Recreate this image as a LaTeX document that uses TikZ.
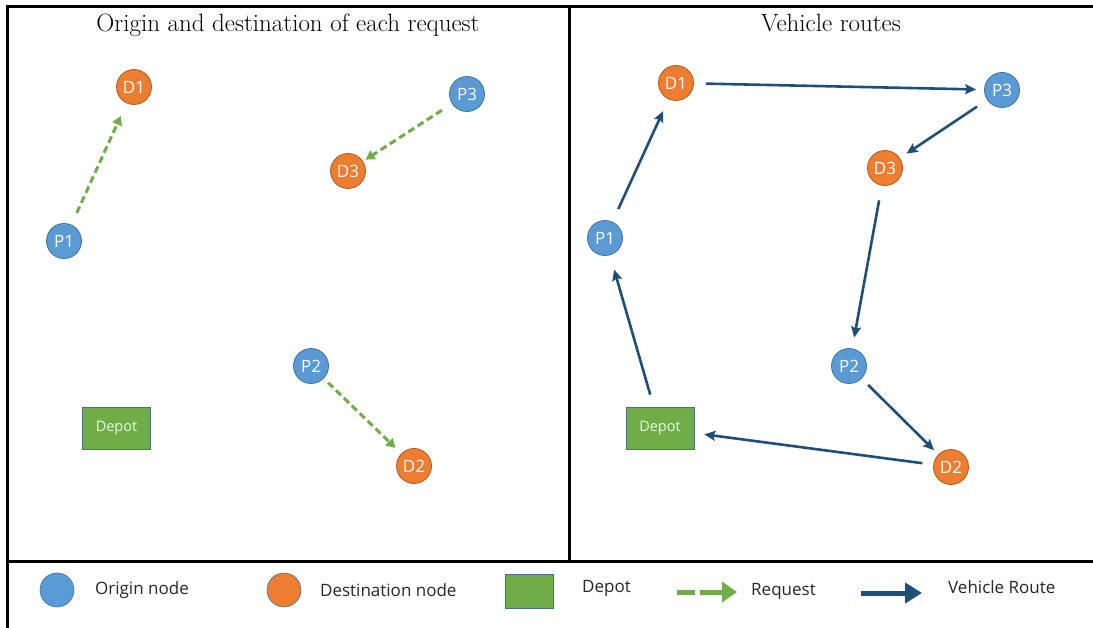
\documentclass[tikz,border=0pt]{standalone}
\usepackage{fontspec}
\setmainfont{Latin Modern Roman}
\newfontfamily\lab{Open Sans}
\usetikzlibrary{arrows.meta}
\definecolor{oblue}{HTML}{5B9BD5}
\definecolor{oblueb}{HTML}{41719C}
\definecolor{dorange}{HTML}{ED7D31}
\definecolor{dorangeb}{HTML}{AE5A21}
\definecolor{dgreen}{HTML}{70AD47}
\definecolor{dgreenb}{HTML}{507E32}
\definecolor{route}{HTML}{1F4E79}
\tikzset{
  pnode/.style={circle, fill=oblue, draw=oblueb, line width=0.8pt, minimum size=35pt, inner sep=0pt, text=white, font=\lab\fontsize{17}{17}\selectfont},
  dnode/.style={circle, fill=dorange, draw=dorangeb, line width=0.8pt, minimum size=35pt, inner sep=0pt, text=white, font=\lab\fontsize{17}{17}\selectfont},
  depot/.style={rectangle, fill=dgreen, draw=oblueb!70!dgreenb, line width=0.8pt, minimum width=68pt, minimum height=42pt, inner sep=0pt, text=white!90!green, font=\lab\fontsize{14.5}{14.5}\selectfont},
  req/.style={draw=dgreen, line width=3pt, dash pattern=on 7pt off 4pt, -{Triangle[length=9pt,width=10pt]}},
  rt/.style={draw=route, line width=2.6pt, -{Stealth[length=11pt,width=10pt,inset=2pt]}},
  frame/.style={line width=3pt, black},
  title/.style={font=\fontsize{25}{25}\selectfont, anchor=base},
  legtext/.style={font=\lab\fontsize{17}{17}\selectfont, anchor=west, text=black!85, inner sep=0pt},
}
\begin{document}
\begin{tikzpicture}[x=1pt,y=-1pt]
\useasboundingbox (0,0) rectangle (1093,628);
% frame
\coordinate (tl) at (7,7);
\coordinate (tr) at (1093,7);
\coordinate (bl) at (7,628);
\coordinate (ml) at (7,561);
\coordinate (mr) at (1093,561);
\coordinate (dt) at (569,7);
\coordinate (db) at (569,561);
\draw[frame] (tr) -- (tl) -- (bl);
\draw[frame] (ml) -- (mr);
\draw[frame] (dt) -- (db);
% titles
\node[title] (t1) at (288,32) {Origin and destination of each request};
\node[title] (t2) at (831,32) {Vehicle routes};
% left panel
\node[dnode] (lD1) at (134,87) {D1};
\node[pnode] (lP1) at (64,241) {P1};
\node[pnode] (lP3) at (467,94) {P3};
\node[dnode] (lD3) at (348,171) {D3};
\node[pnode] (lP2) at (311,366) {P2};
\node[dnode] (lD2) at (414,466) {D2};
\node[depot] (lDep) at (116.5,428) {Depot};
\draw[req, shorten <=13pt, shorten >=14pt] (lP1) -- (lD1);
\draw[req, shorten <=12pt, shorten >=3pt] (lP3) -- (lD3);
\draw[req, shorten <=6pt, shorten >=8pt] (lP2) -- (lD2);
% right panel
\node[dnode] (rD1) at (676,83) {D1};
\node[pnode] (rP3) at (1002,90) {P3};
\node[dnode] (rD3) at (885,168) {D3};
\node[pnode] (rP1) at (605,238) {P1};
\node[pnode] (rP2) at (849,366) {P2};
\node[dnode] (rD2) at (951,467) {D2};
\node[depot] (rDep) at (660,428.5) {Depot};
\draw[rt, shorten <=14pt, shorten >=13pt] (rP1) -- (rD1);
\draw[rt, shorten <=12pt, shorten >=8pt] (rD1) -- (rP3);
\draw[rt, shorten <=12pt, shorten >=8pt] (rP3) -- (rD3);
\draw[rt, shorten <=15pt, shorten >=11pt] (rD3) -- (rP2);
\draw[rt, shorten <=9pt, shorten >=6pt] (rP2) -- (rD2);
\draw[rt, shorten <=11pt, shorten >=10pt] (rD2) -- (rDep);
\draw[rt, shorten <=13pt, shorten >=15pt] (rDep) -- (rP1);
% legend
\node[circle, fill=oblue, draw=oblueb, line width=0.6pt, minimum size=34pt, inner sep=0pt] (gO) at (57,590) {};
\node[legtext] (gOt) at (95,590) {Origin node};
\node[circle, fill=dorange, draw=oblueb, line width=0.6pt, minimum size=34pt, inner sep=0pt] (gD) at (284,590) {};
\node[legtext] (gDt) at (320,590) {Destination node};
\node[rectangle, fill=dgreen, draw=oblueb, line width=0.6pt, minimum width=48pt, minimum height=34pt, inner sep=0pt] (gP) at (529,591) {};
\node[legtext] (gPt) at (582,588) {Depot};
\coordinate (rq1) at (677,592);
\coordinate (rq2) at (695,592);
\coordinate (rq3) at (700,592);
\coordinate (rq4) at (737,592);
\draw[dgreen, line width=5pt] (rq1) -- (rq2);
\draw[dgreen, line width=5pt, -{Triangle[length=15pt,width=20pt]}] (rq3) -- (rq4);
\node[legtext] (gRt) at (751,591) {Request};
\coordinate (vr1) at (861,593);
\coordinate (vr2) at (922,593);
\draw[route, line width=5pt, -{Triangle[length=17pt,width=20pt]}] (vr1) -- (vr2);
\node[legtext] (gVt) at (948,587) {Vehicle Route};
\end{tikzpicture}
\end{document}
